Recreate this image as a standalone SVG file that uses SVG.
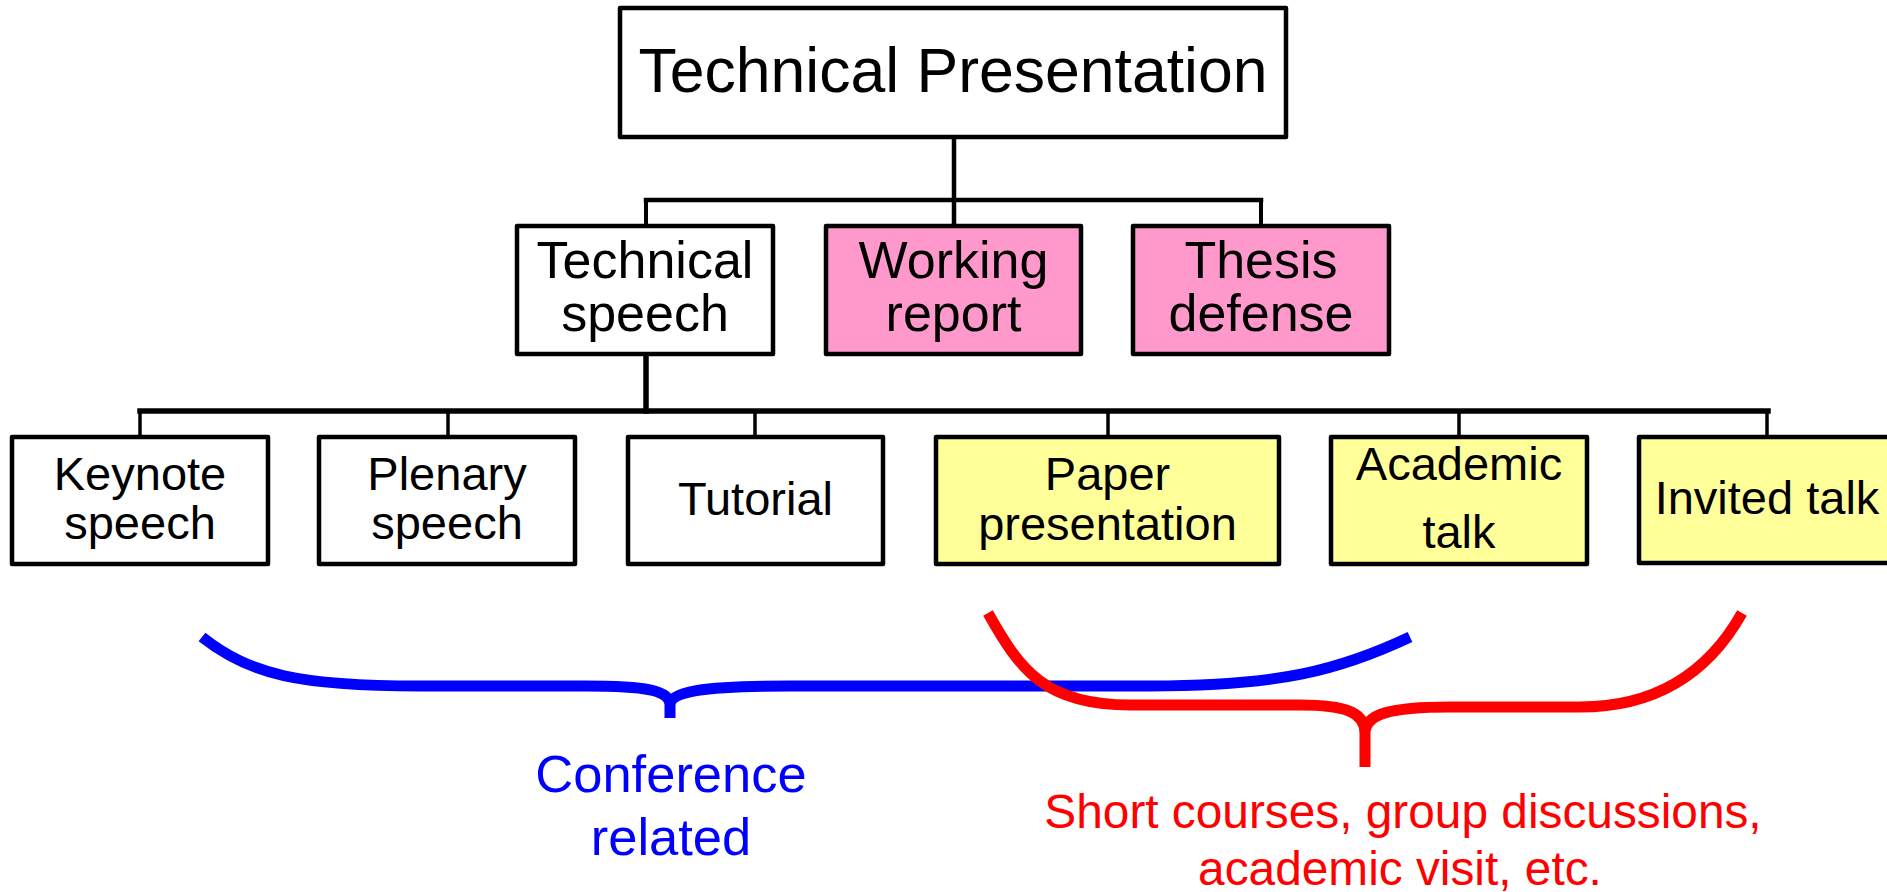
<svg xmlns="http://www.w3.org/2000/svg" width="1887" height="892" viewBox="0 0 1887 892">
  <style>
    .box { stroke: #000; stroke-width: 4.5; stroke-linejoin: round; }
    .plain { fill: #fff; }
    .pink { fill: #ff99cc; }
    .yellow { fill: #ffff99; }
    .lbl { font-family: "Liberation Sans", Arial, sans-serif; text-anchor: middle; fill: #000; }
    .root { font-size: 62.5px; }
    .mid { font-size: 52px; }
    .low { font-size: 47px; }
    .wire { stroke: #000; fill: none; stroke-linecap: square; }
    .brace { fill: none; stroke-width: 11; stroke-linejoin: round; }
    .note { font-family: "Liberation Sans", Arial, sans-serif; text-anchor: middle; }
  </style>
  <rect width="1887" height="892" fill="#fff"/>

  <!-- tree connectors -->
  <g id="connectors">
    <line class="wire" x1="954" y1="137" x2="954" y2="226" stroke-width="4.5"/>
    <line class="wire" x1="646" y1="200" x2="1261" y2="200" stroke-width="4.5"/>
    <line class="wire" x1="646" y1="200" x2="646" y2="226" stroke-width="4"/>
    <line class="wire" x1="1261" y1="200" x2="1261" y2="226" stroke-width="4"/>
    <line class="wire" x1="646" y1="354" x2="646" y2="411" stroke-width="5.5"/>
    <line class="wire" x1="140" y1="411" x2="1768" y2="411" stroke-width="5.5"/>
    <line class="wire" x1="140" y1="411" x2="140" y2="437" stroke-width="3.5"/>
    <line class="wire" x1="448" y1="411" x2="448" y2="437" stroke-width="3.5"/>
    <line class="wire" x1="755" y1="411" x2="755" y2="437" stroke-width="3.5"/>
    <line class="wire" x1="1108" y1="411" x2="1108" y2="437" stroke-width="3.5"/>
    <line class="wire" x1="1459" y1="411" x2="1459" y2="437" stroke-width="3.5"/>
    <line class="wire" x1="1767" y1="411" x2="1767" y2="437" stroke-width="3.5"/>
  </g>

  <!-- top level -->
  <g id="technical-presentation">
    <rect class="box plain" x="620" y="8" width="666" height="129"/>
    <text class="lbl root" x="953" y="92">Technical Presentation</text>
  </g>

  <!-- second level -->
  <g id="technical-speech">
    <rect class="box plain" x="517" y="226" width="256" height="128"/>
    <text class="lbl mid" x="645" y="278">Technical</text>
    <text class="lbl mid" x="645" y="331">speech</text>
  </g>
  <g id="working-report">
    <rect class="box pink" x="826" y="226" width="255" height="128"/>
    <text class="lbl mid" x="953.5" y="278">Working</text>
    <text class="lbl mid" x="953.5" y="331">report</text>
  </g>
  <g id="thesis-defense">
    <rect class="box pink" x="1133" y="226" width="256" height="128"/>
    <text class="lbl mid" x="1261" y="278">Thesis</text>
    <text class="lbl mid" x="1261" y="331">defense</text>
  </g>

  <!-- third level -->
  <g id="keynote-speech">
    <rect class="box plain" x="12" y="437" width="256" height="127"/>
    <text class="lbl low" x="140" y="490">Keynote</text>
    <text class="lbl low" x="140" y="539">speech</text>
  </g>
  <g id="plenary-speech">
    <rect class="box plain" x="319" y="437" width="256" height="127"/>
    <text class="lbl low" x="447" y="490">Plenary</text>
    <text class="lbl low" x="447" y="539">speech</text>
  </g>
  <g id="tutorial">
    <rect class="box plain" x="628" y="437" width="255" height="127"/>
    <text class="lbl low" x="755.5" y="515">Tutorial</text>
  </g>
  <g id="paper-presentation">
    <rect class="box yellow" x="936" y="437" width="343" height="127"/>
    <text class="lbl low" x="1107.5" y="490">Paper</text>
    <text class="lbl low" x="1107.5" y="540">presentation</text>
  </g>
  <g id="academic-talk">
    <rect class="box yellow" x="1331" y="437" width="256" height="127"/>
    <text class="lbl low" x="1459" y="480">Academic</text>
    <text class="lbl low" x="1459" y="548">talk</text>
  </g>
  <g id="invited-talk">
    <rect class="box yellow" x="1639" y="437" width="256" height="126"/>
    <text class="lbl low" x="1767" y="514">Invited talk</text>
  </g>

  <!-- grouping braces -->
  <g id="conference-brace">
    <path class="brace" stroke="#0000ff" d="M 202 637 C 250 675, 300 686, 420 686 L 585 686 C 645 686, 670 690, 670 705 L 670 718 M 670 705 C 670 692, 700 686, 790 686 L 1150 686 C 1280 686, 1340 670, 1410 637"/>
    <text class="note" fill="#0000ff" font-size="52.5" x="671" y="792">Conference</text>
    <text class="note" fill="#0000ff" font-size="52.5" x="671" y="855">related</text>
  </g>
  <g id="other-brace">
    <path class="brace" stroke="#ff0000" d="M 988 613 C 1020 670, 1045 705, 1130 705 L 1300 705 C 1345 705, 1365 712, 1365 733 L 1365 767 M 1365 733 C 1365 714, 1390 707, 1450 707 L 1580 707 C 1660 707, 1710 670, 1742 613"/>
    <text class="note" fill="#ff0000" font-size="47.8" x="1403" y="828">Short courses, group discussions,</text>
    <text class="note" fill="#ff0000" font-size="47.8" x="1400" y="885">academic visit, etc.</text>
  </g>
</svg>
